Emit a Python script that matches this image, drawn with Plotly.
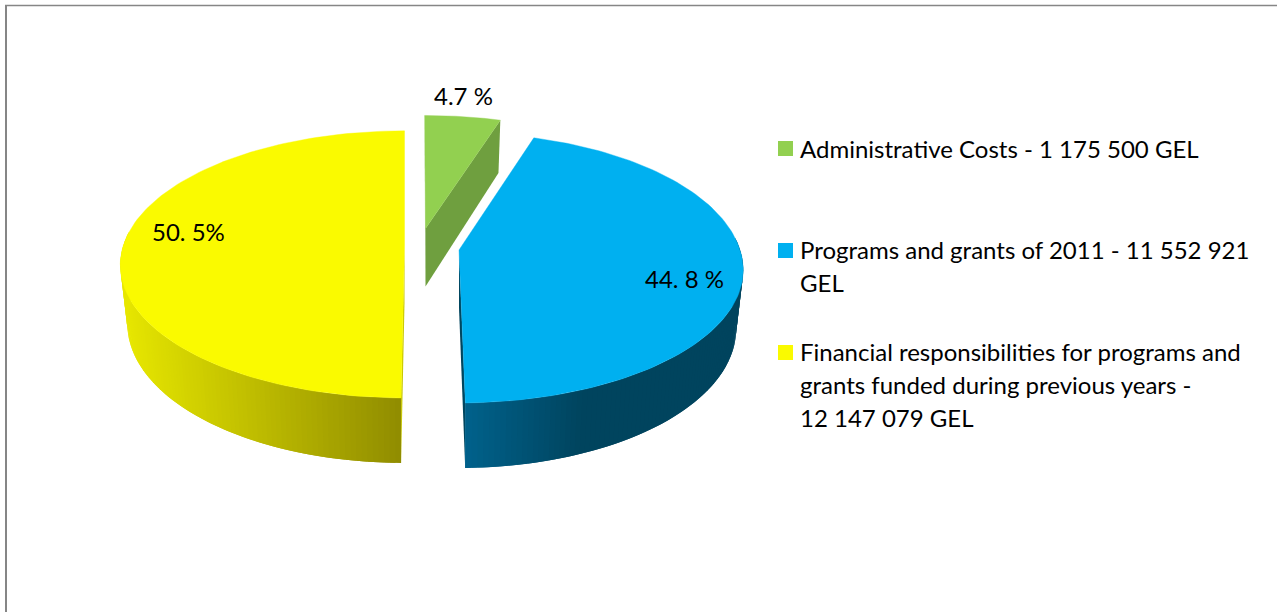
import numpy as np
import plotly.graph_objects as go

# values from the chart
categories = ['Administrative Costs', 'Programs and grants of 2011', 'Financial responsibilities']
shares = [4.7, 44.8, 50.5]
share_labels = ['4.7 %', '44. 8 %', '50. 5%']
legend_lines = [
    ['Administrative Costs - 1 175 500 GEL'],
    ['Programs and grants of 2011 - 11 552 921', 'GEL'],
    ['Financial responsibilities for programs and', 'grants funded during previous years -', '12 147 079 GEL'],
]

# styling / layout
top_colors = ['#92D050', '#00B0F0', '#FAFA00']
cut_colors = ['#6F9F3F', '#00465F', '#C8C800']
wall_left = [(111, 159, 63), (0, 98, 140), (232, 232, 0)]
wall_right = [(111, 159, 63), (0, 68, 94), (144, 140, 0)]
apex = [(425.5, 228.5), (459, 250), (404.5, 245)]
back_scale = [1, 1.035, 1.01]
angle_nudge = [(-0.2, 0.8), (0.8, 0.7), (2.4, 0.0)]  # degrees added to the start/end of each slice
show_cut = [(True, True), (False, True), (True, True)]
label_pos = [(463, 95.5), (684, 278.5), (188, 231.5)]
legend_y = [[148], [249.5, 282.5], [351.5, 384.5, 417.5]]
swatch_y = [148.5, 250.5, 352.5]
FONT = 'Lato'
R, V, P, D = 281, 130, 0.15, 58

fig = go.Figure()


def project(a, i):
    c = apex[i]
    s = 1 / (1 + P * np.cos(a))
    back = np.where(np.cos(a) > 0, back_scale[i], 1)
    return c[0] + R * np.sin(a) * s, c[1] - V * np.cos(a) * s * back


def drop(a, i):
    # same point on the bottom face of the slab
    c = apex[i]
    s = 1 / (1 + P * np.cos(a))
    x, y = project(a, i)
    return c[0] + (x - c[0]) * 0.975, y + D * s ** 0.7


def poly(x, y, color, width=0.0):
    fig.add_trace(go.Scatter(x=x, y=y, mode='lines', fill='toself', fillcolor=color,
                             line=dict(color=color, width=width), hoverinfo='skip', showlegend=False))


start = 0.0
for i, share in enumerate(shares):
    a0 = np.radians(start + angle_nudge[i][0])
    a1 = np.radians(start + share * 3.6 + angle_nudge[i][1])
    start += share * 3.6
    c = apex[i]

    # cut faces
    for a, shown in zip((a0, a1), show_cut[i]):
        if shown:
            xr, yr = project(a, i)
            xb, yb = drop(a, i)
            poly([c[0], xr, xb, c[0], c[0]], [c[1], yr, yb, c[1] + D, c[1]], cut_colors[i])

    # outer wall, shaded left to right; every strip runs under the next so no seams show
    step = np.radians(1.0)
    edges = np.append(np.arange(a0, a1, step), a1)
    edges = edges[np.cos(edges) < 0.1]
    for j in range(len(edges) - 1):
        arc = edges[j:j + 3]
        xt, yt = project(arc, i)
        xd, yd = drop(arc, i)
        mid = (xt[0] + xt[1]) / 2
        t = np.clip((mid - 120) / 284 if i == 2 else (mid - 465) / 120, 0, 1)
        rgb = [int(l + (r - l) * t) for l, r in zip(wall_left[i], wall_right[i])]
        poly([*xt, *xd[::-1], xt[0]], [*yt, *yd[::-1], yt[0]], 'rgb(%d,%d,%d)' % tuple(rgb))

    # top face
    arc = np.linspace(a0, a1, 120)
    xs, ys = project(arc, i)
    poly([c[0], *xs, c[0]], [c[1], *ys, c[1]], top_colors[i], 0.4)

# share labels
for label, (x, y) in zip(share_labels, label_pos):
    fig.add_annotation(x=x, y=y, text=label, showarrow=False, xanchor='center', yanchor='middle',
                       font=dict(family=FONT, size=24, color='#000000'))

# legend
fig.add_trace(go.Scatter(x=[785.5] * 3, y=swatch_y, mode='markers', hoverinfo='text', text=categories,
                         marker=dict(symbol='square', size=15, color=top_colors, line=dict(width=0)),
                         showlegend=False))
for lines, ys in zip(legend_lines, legend_y):
    for line, y in zip(lines, ys):
        fig.add_annotation(x=800, y=y, text=line, showarrow=False, xanchor='left', yanchor='middle',
                           xshift=-2, font=dict(family=FONT, size=24, color='#000000'))

# chart frame
fig.add_shape(type='line', x0=5, x1=1277, y0=5.5, y1=5.5, line=dict(color='#868686', width=1.5))
fig.add_shape(type='line', x0=6, x1=6, y0=5, y1=612, line=dict(color='#868686', width=2))

fig.update_layout(
    width=1277, height=612, autosize=False,
    margin=dict(l=0, r=0, t=0, b=0),
    paper_bgcolor='white', plot_bgcolor='white',
    xaxis=dict(range=[0, 1277], visible=False, fixedrange=True),
    yaxis=dict(range=[612, 0], visible=False, fixedrange=True),
)

fig.write_html('out.html', config={'displayModeBar': False},
               post_script="document.body.style.margin='0';document.body.style.overflow='hidden';"
                           "document.head.insertAdjacentHTML('beforeend','<style>text{font-variant-ligatures:none}</style>');")
